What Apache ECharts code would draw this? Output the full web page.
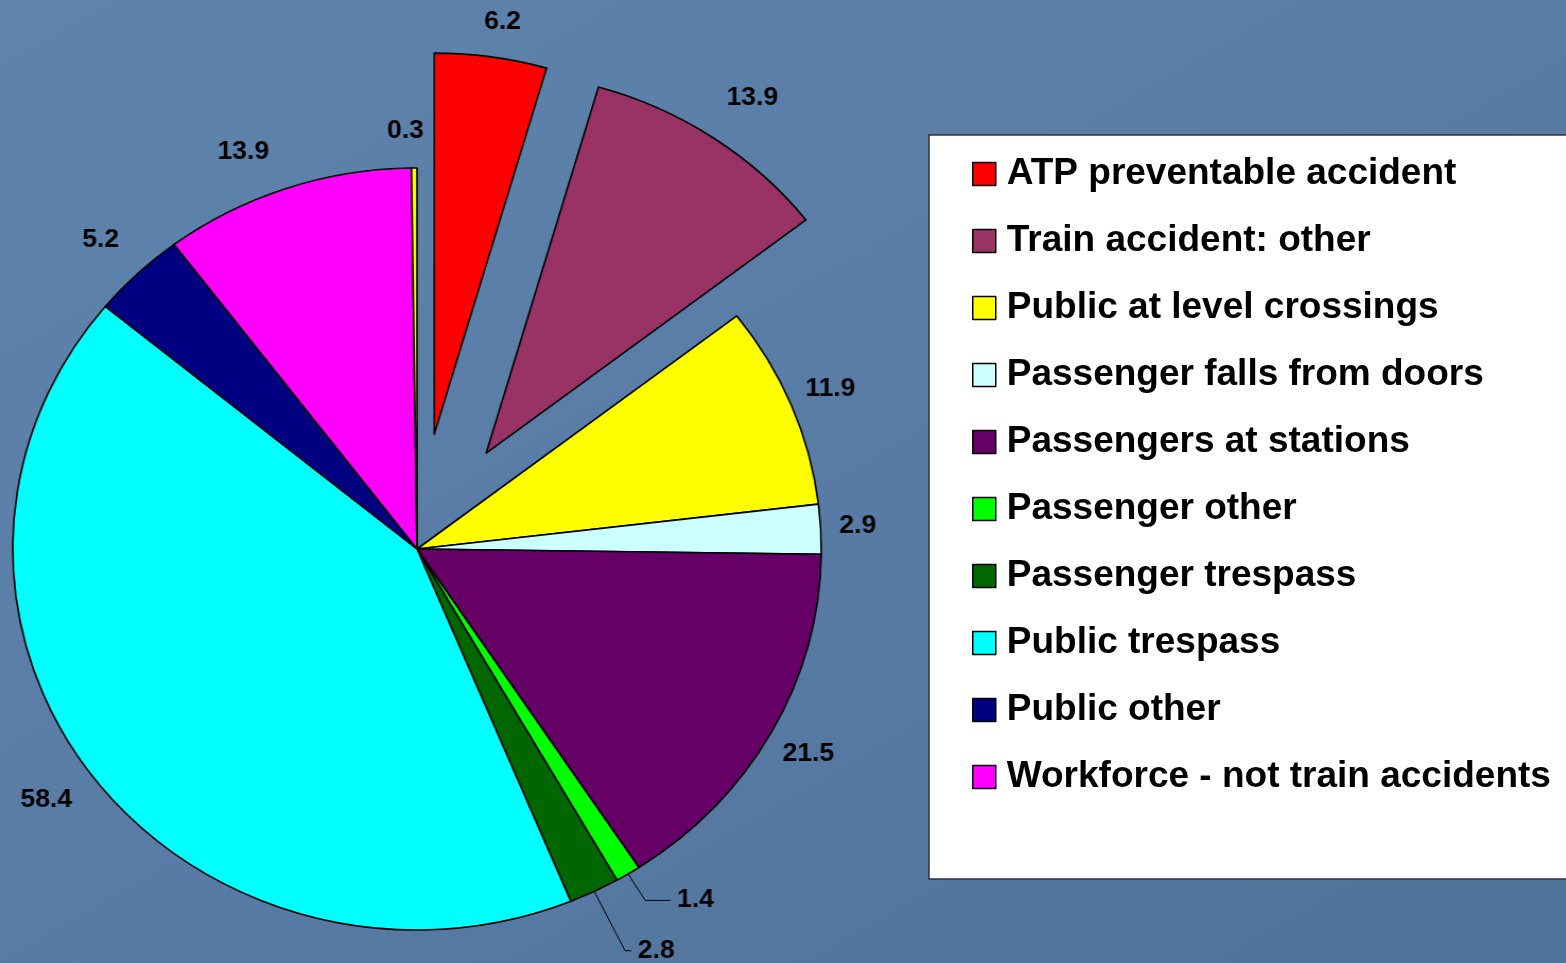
<!DOCTYPE html>
<html><head><meta charset="utf-8">
<script src="https://cdn.jsdelivr.net/npm/echarts@6/dist/echarts.min.js"></script>
<style>
html,body{margin:0;padding:0;width:1566px;height:963px;overflow:hidden;
background:linear-gradient(150deg,#5f84ac 0%,#587ca6 50%,#4f7298 100%);}
#pie{position:absolute;left:0;top:0;width:1566px;height:963px;transform-origin:417px 549px;transform:scaleX(1.061);}
#leg{position:absolute;left:0;top:0;width:1566px;height:963px;}
</style></head><body>
<div id="pie"></div><div id="leg"></div>
<script>
// ---- data ----
const categories = [
  'ATP preventable accident',
  'Train accident: other',
  'Public at level crossings',
  'Passenger falls from doors',
  'Passengers at stations',
  'Passenger other',
  'Passenger trespass',
  'Public trespass',
  'Public other',
  'Workforce - not train accidents',
  'Other'
];
const values = [6.2, 13.9, 11.9, 2.9, 21.5, 1.4, 2.8, 58.4, 5.2, 13.9, 0.3];
const legendNames = categories.slice(0, 10);
const explodedNames = ['ATP preventable accident', 'Train accident: other'];
const leaderNames = ['Passenger other', 'Passenger trespass'];

// ---- styles ----
const colors = ['#FF0000','#993366','#FFFF00','#CCFFFF','#660066','#00FF00','#006600','#00FFFF','#000080','#FF00FF','#FFFF00'];
const FONT = '"Liberation Sans", Arial, Helvetica, sans-serif';
const leaderLen = {'Passenger other': [31, 24], 'Passenger trespass': [66, 6]};
// small label nudges (style only)
const labelNudge = {
  'ATP preventable accident': [5, 7],
  'Train accident: other': [13, -5],
  'Public at level crossings': [-2, 0],
  'Passenger falls from doors': [-7, -1],
  'Passengers at stations': [-2, 2],
  'Public trespass': [-9, 0],
  'Public other': [-6, -3],
  'Workforce - not train accidents': [-27, 3],
  'Other': [-8, 5]
};
const CENTER = [417, 549];
const R = 381;

const fmt = p => Number(p.value).toFixed(1);

const mainData = categories.map((c, i) => {
  const d = {name: c, value: values[i], itemStyle: {color: colors[i]}};
  if (explodedNames.includes(c)) d.selected = true;
  if (leaderNames.includes(c)) {
    d.label = {show: true};
    d.labelLine = {show: true, length: leaderLen[c][0], length2: leaderLen[c][1]};
  }
  return d;
});
const ringData = categories.map((c, i) => {
  const d = {name: c, value: values[i]};
  if (explodedNames.includes(c)) d.selected = true;
  if (leaderNames.includes(c)) d.label = {show: false};
  else if (labelNudge[c]) {
    d.label = {offset: labelNudge[c]};
    d.select = {label: {offset: labelNudge[c]}};
  }
  return d;
});

const labelText = {color: '#000', fontSize: 25, fontWeight: 'bold', fontFamily: FONT};

const pieChart = echarts.init(document.getElementById('pie'));
pieChart.setOption({
  animation: false,
  backgroundColor: 'transparent',
  series: [{
    type: 'pie',
    center: CENTER,
    radius: [0, R],
    startAngle: 90,
    clockwise: true,
    selectedMode: 'multiple',
    selectedOffset: 116,
    avoidLabelOverlap: false,
    silent: true,
    itemStyle: {borderColor: '#000', borderWidth: 1.6},
    label: Object.assign({show: false, position: 'outside', distanceToLabelLine: 6, formatter: fmt}, labelText),
    labelLine: {show: false, lineStyle: {color: '#000', width: 1}, smooth: false},
    emphasis: {disabled: true},
    data: mainData
  }, {
    type: 'pie',
    center: CENTER,
    radius: [R + 28, R + 50],
    startAngle: 90,
    clockwise: true,
    selectedMode: 'multiple',
    selectedOffset: 116,
    avoidLabelOverlap: false,
    silent: true,
    itemStyle: {color: 'rgba(0,0,0,0)', borderWidth: 0},
    label: Object.assign({show: true, position: 'inside', rotate: 0, formatter: fmt}, labelText),
    labelLine: {show: false},
    emphasis: {disabled: true},
    data: ringData
  }]
});

const legChart = echarts.init(document.getElementById('leg'));
legChart.setOption({
  animation: false,
  backgroundColor: 'transparent',
  legend: {
    data: legendNames,
    orient: 'vertical',
    left: 929,
    top: 135,
    padding: [19, 40, 82, 43],
    backgroundColor: '#FFFFFF',
    borderColor: '#333',
    borderWidth: 1.5,
    icon: 'rect',
    itemWidth: 23,
    itemHeight: 23,
    itemGap: 27,
    selectedMode: false,
    itemStyle: {borderColor: '#000', borderWidth: 1.5},
    textStyle: {color: '#000', fontSize: 37, fontWeight: 'bold', fontFamily: FONT, lineHeight: 40, padding: [0, 0, 0, 6]}
  },
  series: [{
    type: 'pie',
    center: [-500, -500],
    radius: [0, 1],
    silent: true,
    label: {show: false},
    labelLine: {show: false},
    itemStyle: {borderColor: '#000', borderWidth: 1.5},
    data: categories.map((c, i) => ({name: c, value: values[i], itemStyle: {color: colors[i]}}))
  }]
});
</script>
</body></html>
